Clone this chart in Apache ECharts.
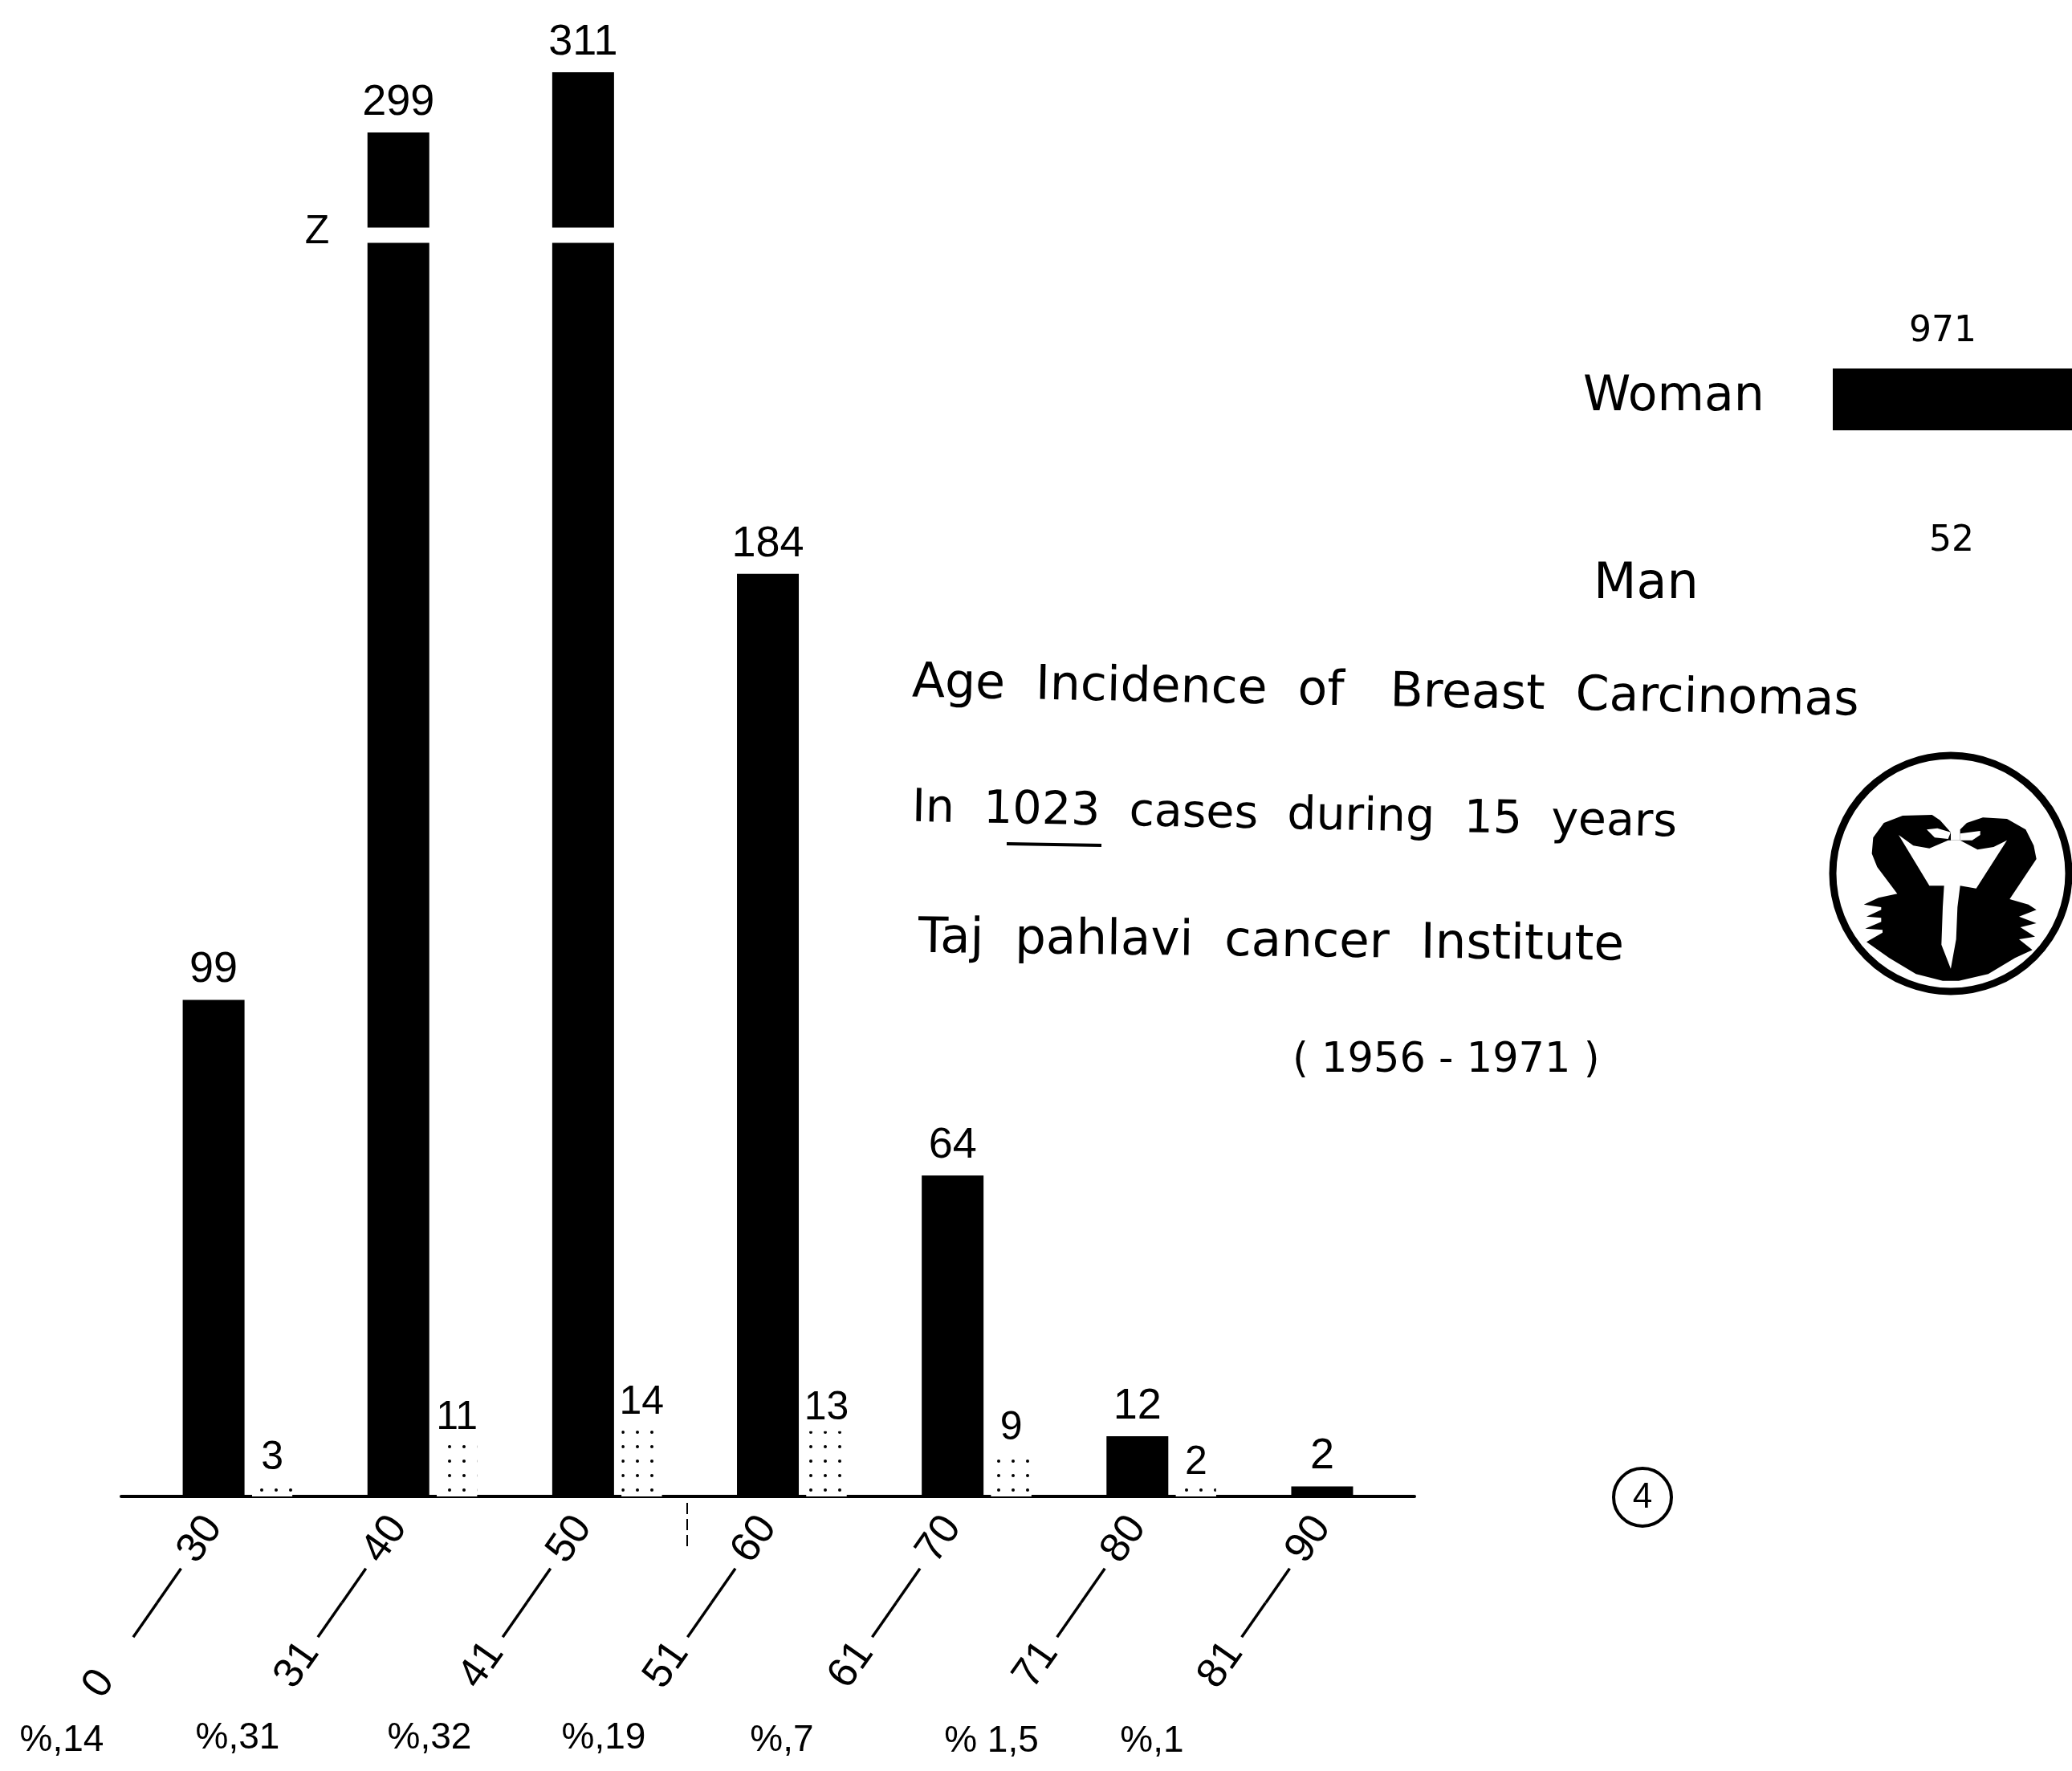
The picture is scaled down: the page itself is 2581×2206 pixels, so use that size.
<!DOCTYPE html>
<html>
<head>
<meta charset="utf-8">
<style>html,body{margin:0;padding:0;background:#fff}#c{width:2581px;height:2206px}</style>
<script src="https://cdn.jsdelivr.net/npm/echarts@6/dist/echarts.min.js"></script>
</head>
<body>
<div id="c"></div>
<script>
const ageGroups = ['0    —— 30','31 —— 40','41 —— 50','51 —— 60','61 —— 70','71 —— 80','81 —— 90'];
const womenCases = [99,299,311,184,64,12,2];
const menCases = [3,11,14,13,9,2,null];
const percentLabels = ['%,14','%,31','%,32','%,19','%,7','% 1,5','%,1'];
const sexLabels = ['Woman','Man'];
const sexTotals = [971,52];
const titleLines = ['Age  Incidence  of   Breast  Carcinomas','In  1023  cases  during  15  years','Taj  pahlavi  cancer  Institute','( 1956 - 1971 )'];

const INK = '#000';
const NUM_FONT = 'Liberation Sans';
const TXT_FONT = 'DejaVu Sans';

const chart = echarts.init(document.getElementById('c'), null, {renderer:'canvas'});

function txt(text, x, y, size, extra) {
  return Object.assign({
    type:'text', x:x, y:y, z:100,
    style:{text:text, fill:INK, font:size+'px "'+((extra&&extra.font)||TXT_FONT)+'"',
           textAlign:(extra&&extra.align)||'left', textVerticalAlign:'middle'}
  }, extra&&extra.rotation?{rotation:extra.rotation,originX:0,originY:0}:{}, extra&&extra.zlevel?{zlevel:extra.zlevel}:{});
}

const pctX = [77,296,535,752,974,1235,1435];
const pctY = [2168,2165,2165,2165,2168,2169,2169];

const emblemBody = [[480,320],[440,275],[410,255],[300,258],[230,285],[190,340],[185,400],[205,450],[280,550],[210,565],[155,590],[220,600],[220,610],[165,635],[220,640],[220,655],[160,680],[225,685],[225,695],[165,730],[250,790],[350,850],[450,875],[510,875],[620,850],[720,790],[785,760],[735,720],[795,710],[740,675],[800,660],[735,635],[800,610],[770,590],[700,570],[800,420],[790,370],[760,310],[690,270],[600,265],[540,285],[515,310],[515,350],[480,350]];
const emblemTrunk = [[285,330],[340,370],[400,380],[470,350],[515,350],[580,385],[640,375],[690,350],[575,530],[515,520],[505,600],[500,720],[480,830],[445,740],[450,600],[455,520],[400,520]];
const emblemEyeL = [[390,310],[430,305],[480,320],[470,345],[420,340]];
const emblemEyeR = [[515,325],[590,315],[590,330],[560,350],[515,350]];

function poly(points, fill, z) {
  return {type:'polygon',z:z,x:2270,y:930,scaleX:1/3,scaleY:1/3,shape:{points:points},style:{fill:fill}};
}

const graphics = [
  txt(titleLines[0],1136,852,60,{rotation:-0.0196}),
  txt(titleLines[1],1136,1008,57,{rotation:-0.0196}),
  txt(titleLines[2],1144,1170,61,{rotation:-0.0112}),
  txt(titleLines[3],1610,1322,51,{rotation:0}),
  {type:'line',z:100,shape:{x1:1254,y1:1051,x2:1372,y2:1053},style:{stroke:INK,lineWidth:4}},
  txt(sexLabels[0],1972,495,60),
  txt(sexLabels[1],1985,729,62),
  txt(String(sexTotals[0]),2420,414,44,{align:'center'}),
  txt(String(sexTotals[1]),2431,675,44,{align:'center'}),
  txt('Z',395,289,50,{font:NUM_FONT,align:'center',zlevel:1}),
  {type:'circle',z:100,shape:{cx:2046,cy:1865,r:36},style:{fill:'#fff',stroke:INK,lineWidth:4}},
  txt('4',2046,1866,44,{font:NUM_FONT,align:'center'}),
  {type:'circle',z:100,shape:{cx:2430,cy:1088,r:147},style:{fill:'#fff',stroke:INK,lineWidth:9}},
  poly(emblemBody,INK,101),
  poly(emblemTrunk,'#fff',102),
  poly(emblemEyeL,'#fff',102),
  poly(emblemEyeR,'#fff',102),
  {type:'line',z:100,shape:{x1:856,y1:1872,x2:856,y2:1928},style:{stroke:INK,lineWidth:2,lineDash:[14,6]}}
];
percentLabels.forEach(function(t,i){ graphics.push(txt(t,pctX[i],pctY[i],46,{font:NUM_FONT,align:'center'})); });

const option = {
  backgroundColor:'#fff',
  animation:false,
  textStyle:{fontFamily:NUM_FONT,color:INK},
  grid:[
    {left:151,top:90,width:1611,height:1774,containLabel:false},
    {left:2283,top:384,width:298,height:454}
  ],
  xAxis:[
    {type:'category',gridIndex:0,data:ageGroups,
     axisLine:{show:true,lineStyle:{color:INK,width:4}},axisTick:{show:false},
     axisLabel:{show:true,interval:0,rotate:55,margin:30,fontSize:52,color:INK,fontFamily:NUM_FONT}},
    {type:'value',gridIndex:1,min:0,max:971,show:false}
  ],
  yAxis:[
    {type:'value',gridIndex:0,min:0,max:311,show:true,
     axisLine:{show:false},axisTick:{show:false},axisLabel:{show:false},splitLine:{show:false},
     breaks:[{start:250,end:280,gap:3}],
     breakArea:{show:true,zigzagAmplitude:0,expandOnClick:false,
       itemStyle:{color:'#fff',borderColor:'#fff',borderWidth:0,opacity:1}}},
    {type:'category',gridIndex:1,data:sexLabels,inverse:true,show:false}
  ],
  series:[
    {type:'bar',name:'spacer',xAxisIndex:0,yAxisIndex:0,data:[],barWidth:53,barGap:'12.3%',silent:true},
    {type:'bar',name:'Woman',xAxisIndex:0,yAxisIndex:0,data:womenCases,barWidth:77,barGap:'12.3%',
     itemStyle:{color:INK},
     label:{show:true,position:'top',distance:10,fontSize:54,color:INK,fontFamily:NUM_FONT}},
    {type:'bar',name:'Man',xAxisIndex:0,yAxisIndex:0,data:menCases,barWidth:50,barGap:'12.3%',
     itemStyle:{color:'#fff',decal:{symbol:'circle',symbolSize:1,dashArrayX:[4,14],dashArrayY:[4,14],color:'#000',backgroundColor:'#fff'}},
     label:{show:true,position:'top',distance:4,fontSize:50,color:INK,fontFamily:NUM_FONT}},
    {type:'bar',name:'Total',xAxisIndex:1,yAxisIndex:1,data:[sexTotals[0],null],barWidth:77,itemStyle:{color:INK},label:{show:false}}
  ],
  graphic:graphics
};
chart.setOption(option);
</script>
</body>
</html>
